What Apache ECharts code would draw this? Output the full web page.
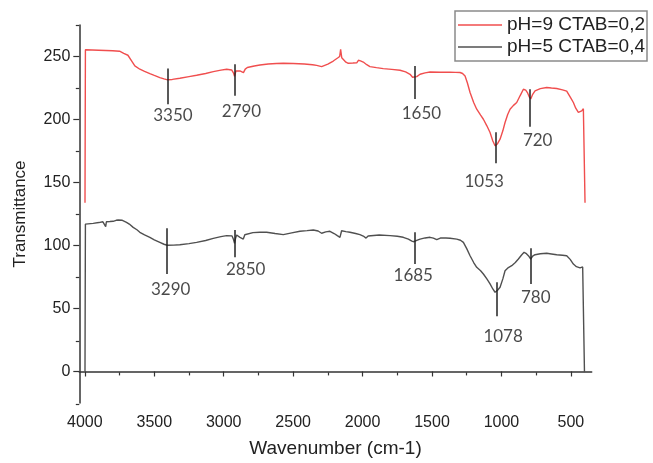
<!DOCTYPE html>
<html>
<head>
<meta charset="utf-8">
<script src="https://cdn.jsdelivr.net/npm/echarts@6/dist/echarts.min.js"></script>
<style>html,body{margin:0;padding:0;background:#fff;}#chart{width:653px;height:463px;}</style>
</head>
<body>
<div id="chart"></div>
<script>
// ---- data ----
const seriesNames = ['pH=9 CTAB=0,2', 'pH=5 CTAB=0,4'];
const redData = [[3999,134],[3996,255.4],[3900,255.0],[3850,254.8],[3800,254.6],[3750,254.2],[3720,252.5],[3690,251],[3676,250.3],[3660,246],[3640,242.5],[3604,239.9],[3570,238.2],[3532,236.4],[3500,235],[3460,233.3],[3430,232.2],[3404,231.5],[3370,231.8],[3316,232.7],[3250,234],[3195,235.1],[3130,236.5],[3075,238],[3020,239.2],[2979,239.9],[2943,239.3],[2930,237],[2922,234.3],[2912,238.5],[2900,239.8],[2883,238.5],[2870,239],[2858,237.2],[2845,240],[2830,241.3],[2780,242.5],[2739,243.3],[2680,244],[2620,244.4],[2571,244.6],[2500,244.4],[2420,244],[2360,243.5],[2331,243],[2295,242],[2250,244],[2211,246.4],[2180,248.8],[2165,250],[2158,255.7],[2150,249],[2139,247.8],[2120,245.5],[2103,244.6],[2070,244.8],[2042,245],[2030,247],[2024,248],[2015,246.5],[1995,245.6],[1970,243.5],[1947,242],[1900,241.2],[1851,240.4],[1790,239.8],[1730,239.1],[1690,237.8],[1658,235.9],[1640,233.5],[1628,232.5],[1610,234],[1586,235.9],[1550,237],[1514,237.7],[1442,237.5],[1370,237.6],[1330,237.4],[1298,237.3],[1280,236.5],[1262,234.5],[1245,229],[1226,221.4],[1200,213.5],[1178,208.2],[1150,203.5],[1130,200.2],[1105,195],[1082,189.7],[1062,183],[1046,179.1],[1030,180.5],[1010,184.4],[990,191],[974,197.6],[955,204],[938,208.2],[915,211],[890,213.5],[865,219],[842,224],[825,223.3],[813,221.4],[800,218],[789,216.3],[775,220],[758,222.7],[720,224.5],[674,225.4],[640,225],[602,224.6],[560,223.5],[530,222.5],[519,221.4],[500,217],[482,213.5],[465,209],[446,205.6],[432,205.8],[422,206.8],[410,208.5],[399,209.5],[398,134]];
const blackData = [[3999,0],[3996,117],[3940,117.6],[3900,118.2],[3870,118.8],[3856,119.2],[3850,115],[3845,118.8],[3820,119],[3796,119.2],[3775,120],[3760,120.2],[3748,121],[3730,120],[3700,118.4],[3680,117],[3652,114.4],[3625,112.5],[3604,110.5],[3570,108.5],[3532,106.5],[3500,104.5],[3460,102.5],[3430,101],[3407,100.2],[3360,100.3],[3316,100.6],[3250,101.5],[3195,102.5],[3130,104],[3075,105.7],[3020,107],[2979,107.8],[2940,107.6],[2930,105],[2922,101.7],[2914,106],[2907,108.3],[2883,106.5],[2870,107.2],[2859,105.1],[2848,108.5],[2835,109.7],[2790,110.2],[2739,110.5],[2691,110.5],[2630,109.5],[2571,108.6],[2510,110],[2451,111.3],[2400,111.8],[2355,112.3],[2320,111.5],[2295,109.7],[2265,110.8],[2235,111.3],[2205,109.5],[2182,107.8],[2163,106.5],[2151,111.7],[2120,111],[2091,110.5],[2050,109.5],[2019,108.6],[1995,107.5],[1975,105.9],[1960,107.5],[1947,108.6],[1880,108.3],[1802,107.8],[1750,107.3],[1707,106.5],[1670,105],[1645,103.5],[1630,103],[1610,104],[1586,105.1],[1550,106],[1514,106.5],[1490,105.8],[1466,104.6],[1440,105.9],[1400,105.9],[1370,105.7],[1322,105.1],[1295,104.2],[1274,102.5],[1250,97.5],[1226,91.9],[1200,86.5],[1178,82.7],[1150,80],[1130,77.4],[1105,73.5],[1082,69.5],[1062,65.5],[1046,62.9],[1028,64.5],[1010,66.9],[990,73.5],[974,80],[950,82.5],[926,84],[900,86.5],[878,89.3],[855,92.5],[837,94.6],[820,93.5],[806,91.9],[789,89.3],[775,91.5],[758,92.7],[720,93.5],[674,93.8],[640,93.3],[602,92.7],[560,92.3],[530,91.9],[505,89],[482,85.3],[460,83.2],[434,82.2],[415,83],[403,84],[402,-0.5]];
// peak marks: [wavenumber, top, bottom]
const redMarks = [[3404,240.5,212.2],[2919,243.9,218.8],[1623,242.5,216.2],[1041,189.8,165.2],[794,224.1,194.2]];
const blackMarks = [[3411,113.6,77.4],[2919,112.3,90.6],[1623,110.5,85.3],[1037,70.8,43.9],[786,97.8,69.5]];
// peak labels: [text, wavenumber, value]
const peakLabels = [['3350',3366,203.4],['2790',2872,206.5],['1650',1576,204.8],['1053',1124,151.0],['720',739,183.2],
                    ['3290',3382,65.0],['2850',2842,81.0],['1685',1635,76.1],['1078',988,27.8],['780',753,58.7]];
const xMajor = [4000,3500,3000,2500,2000,1500,1000,500];
const xMinor = [3750,3250,2750,2250,1750,1250,750];
const yMajor = [0,50,100,150,200,250];
const yMinor = [-25,25,75,125,175,225,275];

const chart = echarts.init(document.getElementById('chart'), null, {renderer:'canvas'});
const axisColor = '#333';
const font = 'Liberation Sans, Arial, sans-serif';
function mk(marks){ return marks.map(m => [{coord:[m[0],m[1]]},{coord:[m[0],m[2]]}]); }
const gridBox = {left:79.3, top:25, width:512.4, height:379, containLabel:false};

const option = {
  animation:false,
  backgroundColor:'#fff',
  grid:[Object.assign({}, gridBox), Object.assign({}, gridBox)],
  legend:{
    data:seriesNames, orient:'vertical', left:455, top:11,
    padding:[4,2,4,3], itemGap:2, itemWidth:44, itemHeight:1.5, icon:'rect',
    borderColor:'#8a8a8a', borderWidth:1.5, borderRadius:0,
    textStyle:{fontFamily:font, fontSize:19, lineHeight:20, color:'#222'}
  },
  xAxis:[{
    type:'value', min:350, max:4040, inverse:true, position:'bottom', gridIndex:0,
    name:'Wavenumber (cm-1)', nameLocation:'middle', nameGap:36,
    nameTextStyle:{fontFamily:font, fontSize:19, color:'#222'},
    axisLine:{show:true, lineStyle:{color:axisColor, width:1.5}},
    axisTick:{show:true, inside:false, length:5, lineStyle:{color:axisColor, width:1.2}, customValues:xMajor},
    axisLabel:{show:true, margin:12, fontFamily:font, fontSize:16, color:'#222', customValues:xMajor, formatter:v => String(v)},
    splitLine:{show:false}
  },{
    type:'value', min:350, max:4040, inverse:true, gridIndex:1, position:'bottom',
    axisLine:{show:false},
    axisTick:{show:true, inside:false, length:3, lineStyle:{color:axisColor, width:1.2}, customValues:xMinor},
    axisLabel:{show:false}, splitLine:{show:false}
  }],
  yAxis:[{
    type:'value', min:-25, max:275, position:'left', gridIndex:0,
    name:'Transmittance', nameLocation:'middle', nameGap:50,
    nameTextStyle:{fontFamily:font, fontSize:17, color:'#222'},
    axisLine:{show:true, lineStyle:{color:axisColor, width:1.5}},
    axisTick:{show:true, inside:false, length:6, lineStyle:{color:axisColor, width:1.2}, customValues:yMajor},
    axisLabel:{show:true, margin:9, fontFamily:font, fontSize:16, color:'#222', customValues:yMajor, formatter:v => String(v)},
    splitLine:{show:false}
  },{
    type:'value', min:-25, max:275, gridIndex:1, position:'left',
    axisLine:{show:false},
    axisTick:{show:true, inside:false, length:3.5, lineStyle:{color:axisColor, width:1.2}, customValues:yMinor},
    axisLabel:{show:false}, splitLine:{show:false}
  }],
  series:[
    {name:seriesNames[0], type:'line', data:redData, xAxisIndex:0, yAxisIndex:0, showSymbol:false, symbol:'none', smooth:false,
     lineStyle:{color:'#f04e4e', width:1.4}, itemStyle:{color:'#f04e4e'}, z:3,
     markLine:{silent:true, symbol:'none', label:{show:false}, lineStyle:{color:'#222', width:1.5, type:'solid'}, data:mk(redMarks)}},
    {name:seriesNames[1], type:'line', data:blackData, xAxisIndex:0, yAxisIndex:0, showSymbol:false, symbol:'none', smooth:false,
     lineStyle:{color:'#505050', width:1.4}, itemStyle:{color:'#505050'}, z:3,
     markLine:{silent:true, symbol:'none', label:{show:false}, lineStyle:{color:'#222', width:1.5, type:'solid'}, data:mk(blackMarks)}},
    {name:'labels', type:'scatter', xAxisIndex:0, yAxisIndex:0, symbolSize:0, silent:true,
     data:peakLabels.map(p => ({name:p[0], value:[p[1],p[2]]})),
     label:{show:true, position:'inside', formatter:p => p.name, fontFamily:'Lato, Open Sans, sans-serif', fontSize:17, color:'#1a1a1a'}},
    {name:'minorHolder', type:'line', xAxisIndex:1, yAxisIndex:1, data:[], silent:true}
  ]
};
chart.setOption(option);
</script>
</body>
</html>
